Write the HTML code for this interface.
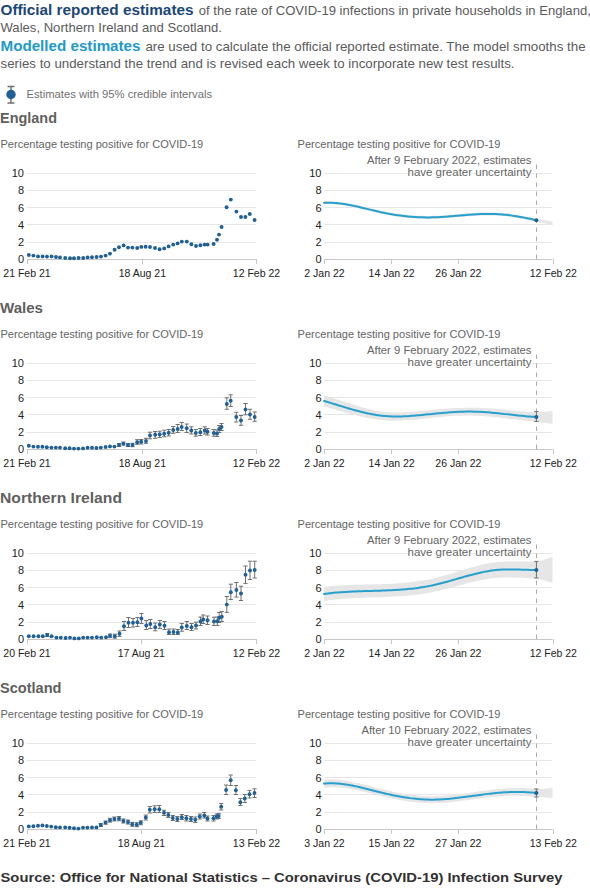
<!DOCTYPE html>
<html><head><meta charset="utf-8"><style>
html,body{margin:0;padding:0;background:#fff;}
body{width:590px;height:892px;overflow:hidden;}
svg{display:block;}
text{font-family:"Liberation Sans", sans-serif;}
</style></head><body>
<svg width="590" height="892" viewBox="0 0 590 892">
<text x="0.5" y="14.8" font-size="14" fill="#414042"><tspan font-weight="bold" fill="#1b4676" textLength="193" lengthAdjust="spacingAndGlyphs">Official reported estimates</tspan></text>
<text x="198.80" y="14.80" font-size="13.5" fill="#5a5a5b" font-weight="normal" text-anchor="start" textLength="392.0" lengthAdjust="spacingAndGlyphs">of the rate of COVID-19 infections in private households in England,</text>
<text x="0.50" y="31.50" font-size="13.5" fill="#5a5a5b" font-weight="normal" text-anchor="start" textLength="221.5" lengthAdjust="spacingAndGlyphs">Wales, Northern Ireland and Scotland.</text>
<text x="0.5" y="50.8" font-size="14" fill="#2199cb" font-weight="bold" textLength="140" lengthAdjust="spacingAndGlyphs">Modelled estimates</text>
<text x="145.40" y="50.80" font-size="13.5" fill="#5a5a5b" font-weight="normal" text-anchor="start" textLength="440.2" lengthAdjust="spacingAndGlyphs">are used to calculate the official reported estimate. The model smooths the</text>
<text x="0.50" y="68.00" font-size="13.5" fill="#5a5a5b" font-weight="normal" text-anchor="start" textLength="514.0" lengthAdjust="spacingAndGlyphs">series to understand the trend and is revised each week to incorporate new test results.</text>
<path d="M7.5,86.5h7M7.5,103h7M11,86.5V103" stroke="#707070" stroke-width="1.5" fill="none"/>
<circle cx="11" cy="94.5" r="4.7" fill="#206095"/>
<text x="26.50" y="97.80" font-size="11" fill="#707071" font-weight="normal" text-anchor="start" textLength="185.5" lengthAdjust="spacingAndGlyphs">Estimates with 95% credible intervals</text>
<text x="0.00" y="122.80" font-size="14" fill="#5f5f60" font-weight="bold" text-anchor="start" textLength="57.0" lengthAdjust="spacingAndGlyphs">England</text>
<text x="0.50" y="148.00" font-size="11" fill="#646465" font-weight="normal" text-anchor="start" textLength="202.7" lengthAdjust="spacingAndGlyphs">Percentage testing positive for COVID-19</text>
<text x="297.60" y="148.00" font-size="11" fill="#646465" font-weight="normal" text-anchor="start" textLength="202.8" lengthAdjust="spacingAndGlyphs">Percentage testing positive for COVID-19</text>
<rect x="27.00" y="173.00" width="229.50" height="1.00" fill="#e6e6e6"/>
<rect x="27.00" y="190.00" width="229.50" height="1.00" fill="#e6e6e6"/>
<rect x="27.00" y="207.00" width="229.50" height="1.00" fill="#e6e6e6"/>
<rect x="27.00" y="224.00" width="229.50" height="1.00" fill="#e6e6e6"/>
<rect x="27.00" y="242.00" width="229.50" height="1.00" fill="#e6e6e6"/>
<rect x="27.00" y="259.00" width="229.50" height="1.00" fill="#c6c6c6"/>
<text x="24.00" y="177.10" font-size="11" fill="#222222" font-weight="normal" text-anchor="end">10</text>
<text x="24.00" y="194.34" font-size="11" fill="#222222" font-weight="normal" text-anchor="end">8</text>
<text x="24.00" y="211.58" font-size="11" fill="#222222" font-weight="normal" text-anchor="end">6</text>
<text x="24.00" y="228.82" font-size="11" fill="#222222" font-weight="normal" text-anchor="end">4</text>
<text x="24.00" y="246.06" font-size="11" fill="#222222" font-weight="normal" text-anchor="end">2</text>
<text x="24.00" y="263.30" font-size="11" fill="#222222" font-weight="normal" text-anchor="end">0</text>
<rect x="27.00" y="259.00" width="1.00" height="5.00" fill="#c6c6c6"/>
<rect x="142.00" y="259.00" width="1.00" height="5.00" fill="#c6c6c6"/>
<rect x="256.00" y="259.00" width="1.00" height="5.00" fill="#c6c6c6"/>
<text x="27.00" y="277.00" font-size="11" fill="#222222" font-weight="normal" text-anchor="middle" textLength="47.3" lengthAdjust="spacingAndGlyphs">21 Feb 21</text>
<text x="142.40" y="277.00" font-size="11" fill="#222222" font-weight="normal" text-anchor="middle" textLength="47.3" lengthAdjust="spacingAndGlyphs">18 Aug 21</text>
<text x="256.50" y="277.00" font-size="11" fill="#222222" font-weight="normal" text-anchor="middle" textLength="47.3" lengthAdjust="spacingAndGlyphs">12 Feb 22</text>
<circle cx="28.80" cy="255.00" r="1.95" fill="#206095"/>
<circle cx="33.40" cy="255.60" r="1.95" fill="#206095"/>
<circle cx="38.00" cy="256.40" r="1.95" fill="#206095"/>
<circle cx="42.60" cy="256.40" r="1.95" fill="#206095"/>
<circle cx="47.00" cy="256.60" r="1.95" fill="#206095"/>
<circle cx="51.60" cy="256.40" r="1.95" fill="#206095"/>
<circle cx="56.00" cy="257.00" r="1.95" fill="#206095"/>
<circle cx="60.00" cy="257.40" r="1.95" fill="#206095"/>
<circle cx="65.20" cy="258.00" r="1.95" fill="#206095"/>
<circle cx="70.00" cy="258.20" r="1.95" fill="#206095"/>
<circle cx="74.00" cy="258.20" r="1.95" fill="#206095"/>
<circle cx="78.60" cy="258.00" r="1.95" fill="#206095"/>
<circle cx="83.20" cy="258.00" r="1.95" fill="#206095"/>
<circle cx="87.60" cy="257.40" r="1.95" fill="#206095"/>
<circle cx="92.00" cy="257.20" r="1.95" fill="#206095"/>
<circle cx="96.60" cy="257.00" r="1.95" fill="#206095"/>
<circle cx="101.00" cy="256.60" r="1.95" fill="#206095"/>
<circle cx="105.60" cy="255.60" r="1.95" fill="#206095"/>
<circle cx="110.00" cy="253.60" r="1.95" fill="#206095"/>
<circle cx="114.60" cy="249.80" r="1.95" fill="#206095"/>
<circle cx="119.00" cy="247.20" r="1.95" fill="#206095"/>
<circle cx="123.60" cy="245.40" r="1.95" fill="#206095"/>
<circle cx="128.00" cy="247.60" r="1.95" fill="#206095"/>
<circle cx="132.40" cy="247.60" r="1.95" fill="#206095"/>
<circle cx="137.20" cy="248.00" r="1.95" fill="#206095"/>
<circle cx="141.30" cy="246.90" r="1.95" fill="#206095"/>
<circle cx="145.60" cy="246.80" r="1.95" fill="#206095"/>
<circle cx="150.00" cy="247.00" r="1.95" fill="#206095"/>
<circle cx="155.00" cy="248.00" r="1.95" fill="#206095"/>
<circle cx="159.60" cy="249.20" r="1.95" fill="#206095"/>
<circle cx="164.20" cy="248.40" r="1.95" fill="#206095"/>
<circle cx="168.60" cy="246.40" r="1.95" fill="#206095"/>
<circle cx="173.20" cy="244.60" r="1.95" fill="#206095"/>
<circle cx="177.60" cy="243.40" r="1.95" fill="#206095"/>
<circle cx="181.80" cy="241.60" r="1.95" fill="#206095"/>
<circle cx="186.80" cy="241.60" r="1.95" fill="#206095"/>
<circle cx="191.40" cy="244.20" r="1.95" fill="#206095"/>
<circle cx="196.00" cy="246.00" r="1.95" fill="#206095"/>
<circle cx="200.40" cy="245.20" r="1.95" fill="#206095"/>
<circle cx="204.60" cy="244.60" r="1.95" fill="#206095"/>
<circle cx="207.60" cy="244.60" r="1.95" fill="#206095"/>
<circle cx="213.60" cy="244.00" r="1.95" fill="#206095"/>
<circle cx="217.00" cy="239.80" r="1.95" fill="#206095"/>
<circle cx="219.00" cy="234.60" r="1.95" fill="#206095"/>
<circle cx="221.60" cy="227.00" r="1.95" fill="#206095"/>
<circle cx="226.60" cy="207.20" r="1.95" fill="#206095"/>
<circle cx="230.80" cy="199.60" r="1.95" fill="#206095"/>
<circle cx="236.40" cy="211.60" r="1.95" fill="#206095"/>
<circle cx="241.00" cy="217.00" r="1.95" fill="#206095"/>
<circle cx="245.40" cy="217.00" r="1.95" fill="#206095"/>
<circle cx="249.80" cy="214.00" r="1.95" fill="#206095"/>
<circle cx="254.60" cy="220.00" r="1.95" fill="#206095"/>
<rect x="324.50" y="173.00" width="228.00" height="1.00" fill="#e6e6e6"/>
<rect x="324.50" y="190.00" width="228.00" height="1.00" fill="#e6e6e6"/>
<rect x="324.50" y="207.00" width="228.00" height="1.00" fill="#e6e6e6"/>
<rect x="324.50" y="224.00" width="228.00" height="1.00" fill="#e6e6e6"/>
<rect x="324.50" y="242.00" width="228.00" height="1.00" fill="#e6e6e6"/>
<rect x="324.50" y="259.00" width="228.00" height="1.00" fill="#c6c6c6"/>
<text x="321.50" y="177.10" font-size="11" fill="#222222" font-weight="normal" text-anchor="end">10</text>
<text x="321.50" y="194.34" font-size="11" fill="#222222" font-weight="normal" text-anchor="end">8</text>
<text x="321.50" y="211.58" font-size="11" fill="#222222" font-weight="normal" text-anchor="end">6</text>
<text x="321.50" y="228.82" font-size="11" fill="#222222" font-weight="normal" text-anchor="end">4</text>
<text x="321.50" y="246.06" font-size="11" fill="#222222" font-weight="normal" text-anchor="end">2</text>
<text x="321.50" y="263.30" font-size="11" fill="#222222" font-weight="normal" text-anchor="end">0</text>
<rect x="324.00" y="259.00" width="1.00" height="5.00" fill="#c6c6c6"/>
<rect x="391.00" y="259.00" width="1.00" height="5.00" fill="#c6c6c6"/>
<rect x="458.00" y="259.00" width="1.00" height="5.00" fill="#c6c6c6"/>
<rect x="553.00" y="259.00" width="1.00" height="5.00" fill="#c6c6c6"/>
<text x="324.50" y="277.00" font-size="11" fill="#222222" font-weight="normal" text-anchor="middle" textLength="40.3" lengthAdjust="spacingAndGlyphs">2 Jan 22</text>
<text x="391.60" y="277.00" font-size="11" fill="#222222" font-weight="normal" text-anchor="middle" textLength="46.1" lengthAdjust="spacingAndGlyphs">14 Jan 22</text>
<text x="458.40" y="277.00" font-size="11" fill="#222222" font-weight="normal" text-anchor="middle" textLength="46.1" lengthAdjust="spacingAndGlyphs">26 Jan 22</text>
<text x="553.30" y="277.00" font-size="11" fill="#222222" font-weight="normal" text-anchor="middle" textLength="47.3" lengthAdjust="spacingAndGlyphs">12 Feb 22</text>
<path d="M324.00,201.28 L326.00,201.20 L328.00,201.17 L330.00,201.20 L332.00,201.26 L334.00,201.38 L336.00,201.53 L338.00,201.72 L340.00,201.95 L342.00,202.21 L344.00,202.51 L346.00,202.83 L348.00,203.18 L350.00,203.55 L352.00,203.95 L354.00,204.37 L356.00,204.80 L358.00,205.25 L360.00,205.71 L362.00,206.18 L364.00,206.66 L366.00,207.14 L368.00,207.63 L370.00,208.11 L372.00,208.60 L374.00,209.08 L376.00,209.56 L378.00,210.02 L380.00,210.48 L382.00,210.92 L384.00,211.34 L386.00,211.75 L388.00,212.13 L390.00,212.50 L392.00,212.85 L394.00,213.18 L396.00,213.50 L398.00,213.79 L400.00,214.06 L402.00,214.32 L404.00,214.56 L406.00,214.77 L408.00,214.97 L410.00,215.15 L412.00,215.31 L414.00,215.45 L416.00,215.58 L418.00,215.68 L420.00,215.76 L422.00,215.83 L424.00,215.87 L426.00,215.90 L428.00,215.90 L430.00,215.89 L432.00,215.85 L434.00,215.80 L436.00,215.73 L438.00,215.64 L440.00,215.54 L442.00,215.42 L444.00,215.29 L446.00,215.15 L448.00,215.00 L450.00,214.85 L452.00,214.69 L454.00,214.52 L456.00,214.35 L458.00,214.17 L460.00,214.00 L462.00,213.83 L464.00,213.66 L466.00,213.50 L468.00,213.34 L470.00,213.19 L472.00,213.05 L474.00,212.91 L476.00,212.79 L478.00,212.69 L480.00,212.59 L482.00,212.52 L484.00,212.46 L486.00,212.42 L488.00,212.40 L490.00,212.40 L492.00,212.43 L494.00,212.48 L496.00,212.56 L498.00,212.67 L500.00,212.80 L502.00,212.96 L504.00,213.15 L506.00,213.36 L508.00,213.59 L510.00,213.84 L512.00,214.12 L514.00,214.41 L516.00,214.72 L518.00,215.06 L520.00,215.40 L522.00,215.77 L524.00,216.14 L526.00,216.54 L528.00,216.94 L530.00,217.35 L532.00,217.78 L534.00,218.22 L536.00,218.66 L536.40,218.75 L536.40,221.75 L536.00,221.66 L534.00,221.22 L532.00,220.78 L530.00,220.35 L528.00,219.94 L526.00,219.54 L524.00,219.14 L522.00,218.77 L520.00,218.40 L518.00,218.06 L516.00,217.72 L514.00,217.41 L512.00,217.12 L510.00,216.84 L508.00,216.59 L506.00,216.36 L504.00,216.15 L502.00,215.96 L500.00,215.80 L498.00,215.67 L496.00,215.56 L494.00,215.48 L492.00,215.43 L490.00,215.40 L488.00,215.40 L486.00,215.42 L484.00,215.46 L482.00,215.52 L480.00,215.59 L478.00,215.69 L476.00,215.79 L474.00,215.91 L472.00,216.05 L470.00,216.19 L468.00,216.34 L466.00,216.50 L464.00,216.66 L462.00,216.83 L460.00,217.00 L458.00,217.17 L456.00,217.35 L454.00,217.52 L452.00,217.69 L450.00,217.85 L448.00,218.00 L446.00,218.15 L444.00,218.29 L442.00,218.42 L440.00,218.54 L438.00,218.64 L436.00,218.73 L434.00,218.80 L432.00,218.85 L430.00,218.89 L428.00,218.90 L426.00,218.90 L424.00,218.87 L422.00,218.83 L420.00,218.76 L418.00,218.68 L416.00,218.58 L414.00,218.45 L412.00,218.31 L410.00,218.15 L408.00,217.97 L406.00,217.77 L404.00,217.56 L402.00,217.32 L400.00,217.06 L398.00,216.79 L396.00,216.50 L394.00,216.18 L392.00,215.85 L390.00,215.50 L388.00,215.13 L386.00,214.75 L384.00,214.34 L382.00,213.92 L380.00,213.48 L378.00,213.02 L376.00,212.56 L374.00,212.08 L372.00,211.60 L370.00,211.11 L368.00,210.63 L366.00,210.14 L364.00,209.66 L362.00,209.18 L360.00,208.71 L358.00,208.25 L356.00,207.80 L354.00,207.37 L352.00,206.95 L350.00,206.55 L348.00,206.18 L346.00,205.83 L344.00,205.51 L342.00,205.21 L340.00,204.95 L338.00,204.72 L336.00,204.53 L334.00,204.38 L332.00,204.26 L330.00,204.20 L328.00,204.17 L326.00,204.20 L324.00,204.28 Z" fill="#e6e6e6"/>
<path d="M536.40,219.00 L552.50,221.60 L552.50,225.00 L536.40,221.80 Z" fill="#e6e6e6"/>
<path d="M536.5,164.50V259.00" stroke="#aaaaaa" stroke-width="1" stroke-dasharray="4.5,4.5" fill="none"/>
<text x="531.50" y="164.00" font-size="11" fill="#646465" font-weight="normal" text-anchor="end" textLength="164.5" lengthAdjust="spacingAndGlyphs" stroke="#fff" stroke-width="2" paint-order="stroke">After 9 February 2022, estimates</text>
<text x="531.50" y="176.00" font-size="11" fill="#646465" font-weight="normal" text-anchor="end" textLength="124.0" lengthAdjust="spacingAndGlyphs" stroke="#fff" stroke-width="2" paint-order="stroke">have greater uncertainty</text>
<path d="M324.00,202.78 L326.00,202.70 L328.00,202.67 L330.00,202.70 L332.00,202.76 L334.00,202.88 L336.00,203.03 L338.00,203.22 L340.00,203.45 L342.00,203.71 L344.00,204.01 L346.00,204.33 L348.00,204.68 L350.00,205.05 L352.00,205.45 L354.00,205.87 L356.00,206.30 L358.00,206.75 L360.00,207.21 L362.00,207.68 L364.00,208.16 L366.00,208.64 L368.00,209.13 L370.00,209.61 L372.00,210.10 L374.00,210.58 L376.00,211.06 L378.00,211.52 L380.00,211.98 L382.00,212.42 L384.00,212.84 L386.00,213.25 L388.00,213.63 L390.00,214.00 L392.00,214.35 L394.00,214.68 L396.00,215.00 L398.00,215.29 L400.00,215.56 L402.00,215.82 L404.00,216.06 L406.00,216.27 L408.00,216.47 L410.00,216.65 L412.00,216.81 L414.00,216.95 L416.00,217.08 L418.00,217.18 L420.00,217.26 L422.00,217.33 L424.00,217.37 L426.00,217.40 L428.00,217.40 L430.00,217.39 L432.00,217.35 L434.00,217.30 L436.00,217.23 L438.00,217.14 L440.00,217.04 L442.00,216.92 L444.00,216.79 L446.00,216.65 L448.00,216.50 L450.00,216.35 L452.00,216.19 L454.00,216.02 L456.00,215.85 L458.00,215.67 L460.00,215.50 L462.00,215.33 L464.00,215.16 L466.00,215.00 L468.00,214.84 L470.00,214.69 L472.00,214.55 L474.00,214.41 L476.00,214.29 L478.00,214.19 L480.00,214.09 L482.00,214.02 L484.00,213.96 L486.00,213.92 L488.00,213.90 L490.00,213.90 L492.00,213.93 L494.00,213.98 L496.00,214.06 L498.00,214.17 L500.00,214.30 L502.00,214.46 L504.00,214.65 L506.00,214.86 L508.00,215.09 L510.00,215.34 L512.00,215.62 L514.00,215.91 L516.00,216.22 L518.00,216.56 L520.00,216.90 L522.00,217.27 L524.00,217.64 L526.00,218.04 L528.00,218.44 L530.00,218.85 L532.00,219.28 L534.00,219.72 L536.00,220.16 L536.40,220.25" stroke="#27a0cc" stroke-width="2" fill="none" stroke-linecap="round"/>
<circle cx="536.40" cy="220.20" r="2.0" fill="#206095"/>
<text x="0.00" y="312.80" font-size="14" fill="#5f5f60" font-weight="bold" text-anchor="start" textLength="43.0" lengthAdjust="spacingAndGlyphs">Wales</text>
<text x="0.50" y="338.00" font-size="11" fill="#646465" font-weight="normal" text-anchor="start" textLength="202.7" lengthAdjust="spacingAndGlyphs">Percentage testing positive for COVID-19</text>
<text x="297.60" y="338.00" font-size="11" fill="#646465" font-weight="normal" text-anchor="start" textLength="202.8" lengthAdjust="spacingAndGlyphs">Percentage testing positive for COVID-19</text>
<rect x="27.00" y="363.00" width="229.50" height="1.00" fill="#e6e6e6"/>
<rect x="27.00" y="380.00" width="229.50" height="1.00" fill="#e6e6e6"/>
<rect x="27.00" y="397.00" width="229.50" height="1.00" fill="#e6e6e6"/>
<rect x="27.00" y="414.00" width="229.50" height="1.00" fill="#e6e6e6"/>
<rect x="27.00" y="432.00" width="229.50" height="1.00" fill="#e6e6e6"/>
<rect x="27.00" y="449.00" width="229.50" height="1.00" fill="#c6c6c6"/>
<text x="24.00" y="367.10" font-size="11" fill="#222222" font-weight="normal" text-anchor="end">10</text>
<text x="24.00" y="384.34" font-size="11" fill="#222222" font-weight="normal" text-anchor="end">8</text>
<text x="24.00" y="401.58" font-size="11" fill="#222222" font-weight="normal" text-anchor="end">6</text>
<text x="24.00" y="418.82" font-size="11" fill="#222222" font-weight="normal" text-anchor="end">4</text>
<text x="24.00" y="436.06" font-size="11" fill="#222222" font-weight="normal" text-anchor="end">2</text>
<text x="24.00" y="453.30" font-size="11" fill="#222222" font-weight="normal" text-anchor="end">0</text>
<rect x="27.00" y="449.00" width="1.00" height="5.00" fill="#c6c6c6"/>
<rect x="142.00" y="449.00" width="1.00" height="5.00" fill="#c6c6c6"/>
<rect x="256.00" y="449.00" width="1.00" height="5.00" fill="#c6c6c6"/>
<text x="27.00" y="467.00" font-size="11" fill="#222222" font-weight="normal" text-anchor="middle" textLength="47.3" lengthAdjust="spacingAndGlyphs">21 Feb 21</text>
<text x="142.40" y="467.00" font-size="11" fill="#222222" font-weight="normal" text-anchor="middle" textLength="47.3" lengthAdjust="spacingAndGlyphs">18 Aug 21</text>
<text x="256.50" y="467.00" font-size="11" fill="#222222" font-weight="normal" text-anchor="middle" textLength="47.3" lengthAdjust="spacingAndGlyphs">12 Feb 22</text>
<path d="M119.00,443.50V446.50M116.90,443.50h4.2M116.90,446.50h4.2" stroke="#707070" stroke-width="1" fill="none"/>
<path d="M123.40,442.00V445.20M121.30,442.00h4.2M121.30,445.20h4.2" stroke="#707070" stroke-width="1" fill="none"/>
<path d="M128.00,443.50V446.50M125.90,443.50h4.2M125.90,446.50h4.2" stroke="#707070" stroke-width="1" fill="none"/>
<path d="M132.50,443.30V446.70M130.40,443.30h4.2M130.40,446.70h4.2" stroke="#707070" stroke-width="1" fill="none"/>
<path d="M137.20,439.70V444.30M135.10,439.70h4.2M135.10,444.30h4.2" stroke="#707070" stroke-width="1" fill="none"/>
<path d="M141.20,439.50V444.00M139.10,439.50h4.2M139.10,444.00h4.2" stroke="#707070" stroke-width="1" fill="none"/>
<path d="M146.00,438.30V443.30M143.90,438.30h4.2M143.90,443.30h4.2" stroke="#707070" stroke-width="1" fill="none"/>
<path d="M150.00,432.20V438.80M147.90,432.20h4.2M147.90,438.80h4.2" stroke="#707070" stroke-width="1" fill="none"/>
<path d="M155.20,431.50V438.30M153.10,431.50h4.2M153.10,438.30h4.2" stroke="#707070" stroke-width="1" fill="none"/>
<path d="M159.70,431.20V437.50M157.60,431.20h4.2M157.60,437.50h4.2" stroke="#707070" stroke-width="1" fill="none"/>
<path d="M164.20,430.20V436.80M162.10,430.20h4.2M162.10,436.80h4.2" stroke="#707070" stroke-width="1" fill="none"/>
<path d="M168.70,429.50V436.00M166.60,429.50h4.2M166.60,436.00h4.2" stroke="#707070" stroke-width="1" fill="none"/>
<path d="M173.20,426.50V433.30M171.10,426.50h4.2M171.10,433.30h4.2" stroke="#707070" stroke-width="1" fill="none"/>
<path d="M177.70,424.50V432.50M175.60,424.50h4.2M175.60,432.50h4.2" stroke="#707070" stroke-width="1" fill="none"/>
<path d="M181.70,422.50V430.50M179.60,422.50h4.2M179.60,430.50h4.2" stroke="#707070" stroke-width="1" fill="none"/>
<path d="M186.70,424.00V432.50M184.60,424.00h4.2M184.60,432.50h4.2" stroke="#707070" stroke-width="1" fill="none"/>
<path d="M191.30,426.80V434.00M189.20,426.80h4.2M189.20,434.00h4.2" stroke="#707070" stroke-width="1" fill="none"/>
<path d="M195.80,429.50V436.20M193.70,429.50h4.2M193.70,436.20h4.2" stroke="#707070" stroke-width="1" fill="none"/>
<path d="M200.30,428.50V435.50M198.20,428.50h4.2M198.20,435.50h4.2" stroke="#707070" stroke-width="1" fill="none"/>
<path d="M204.80,426.80V434.00M202.70,426.80h4.2M202.70,434.00h4.2" stroke="#707070" stroke-width="1" fill="none"/>
<path d="M207.50,428.50V435.00M205.40,428.50h4.2M205.40,435.00h4.2" stroke="#707070" stroke-width="1" fill="none"/>
<path d="M213.80,429.50V436.20M211.70,429.50h4.2M211.70,436.20h4.2" stroke="#707070" stroke-width="1" fill="none"/>
<path d="M217.00,430.00V436.50M214.90,430.00h4.2M214.90,436.50h4.2" stroke="#707070" stroke-width="1" fill="none"/>
<path d="M219.20,425.50V432.50M217.10,425.50h4.2M217.10,432.50h4.2" stroke="#707070" stroke-width="1" fill="none"/>
<path d="M221.50,423.50V430.50M219.40,423.50h4.2M219.40,430.50h4.2" stroke="#707070" stroke-width="1" fill="none"/>
<path d="M226.80,397.80V409.30M224.70,397.80h4.2M224.70,409.30h4.2" stroke="#707070" stroke-width="1" fill="none"/>
<path d="M230.70,394.80V406.50M228.60,394.80h4.2M228.60,406.50h4.2" stroke="#707070" stroke-width="1" fill="none"/>
<path d="M236.30,412.30V422.00M234.20,412.30h4.2M234.20,422.00h4.2" stroke="#707070" stroke-width="1" fill="none"/>
<path d="M241.00,415.50V425.30M238.90,415.50h4.2M238.90,425.30h4.2" stroke="#707070" stroke-width="1" fill="none"/>
<path d="M245.50,403.50V414.80M243.40,403.50h4.2M243.40,414.80h4.2" stroke="#707070" stroke-width="1" fill="none"/>
<path d="M250.00,409.30V419.30M247.90,409.30h4.2M247.90,419.30h4.2" stroke="#707070" stroke-width="1" fill="none"/>
<path d="M254.70,412.00V421.30M252.60,412.00h4.2M252.60,421.30h4.2" stroke="#707070" stroke-width="1" fill="none"/>
<circle cx="28.80" cy="445.80" r="1.95" fill="#206095"/>
<circle cx="33.40" cy="446.60" r="1.95" fill="#206095"/>
<circle cx="38.00" cy="446.80" r="1.95" fill="#206095"/>
<circle cx="42.40" cy="446.80" r="1.95" fill="#206095"/>
<circle cx="46.80" cy="447.20" r="1.95" fill="#206095"/>
<circle cx="51.40" cy="447.60" r="1.95" fill="#206095"/>
<circle cx="55.80" cy="447.60" r="1.95" fill="#206095"/>
<circle cx="60.00" cy="447.60" r="1.95" fill="#206095"/>
<circle cx="65.20" cy="448.20" r="1.95" fill="#206095"/>
<circle cx="69.60" cy="448.20" r="1.95" fill="#206095"/>
<circle cx="74.00" cy="448.60" r="1.95" fill="#206095"/>
<circle cx="78.40" cy="448.60" r="1.95" fill="#206095"/>
<circle cx="83.00" cy="448.40" r="1.95" fill="#206095"/>
<circle cx="87.60" cy="447.80" r="1.95" fill="#206095"/>
<circle cx="92.00" cy="447.80" r="1.95" fill="#206095"/>
<circle cx="96.40" cy="448.00" r="1.95" fill="#206095"/>
<circle cx="100.80" cy="447.60" r="1.95" fill="#206095"/>
<circle cx="105.60" cy="447.00" r="1.95" fill="#206095"/>
<circle cx="110.00" cy="446.40" r="1.95" fill="#206095"/>
<circle cx="114.40" cy="446.60" r="1.95" fill="#206095"/>
<circle cx="119.00" cy="445.00" r="1.95" fill="#206095"/>
<circle cx="123.40" cy="443.60" r="1.95" fill="#206095"/>
<circle cx="128.00" cy="445.00" r="1.95" fill="#206095"/>
<circle cx="132.50" cy="445.00" r="1.95" fill="#206095"/>
<circle cx="137.20" cy="442.20" r="1.95" fill="#206095"/>
<circle cx="141.20" cy="441.80" r="1.95" fill="#206095"/>
<circle cx="146.00" cy="441.00" r="1.95" fill="#206095"/>
<circle cx="150.00" cy="435.50" r="1.95" fill="#206095"/>
<circle cx="155.20" cy="434.80" r="1.95" fill="#206095"/>
<circle cx="159.70" cy="434.50" r="1.95" fill="#206095"/>
<circle cx="164.20" cy="433.80" r="1.95" fill="#206095"/>
<circle cx="168.70" cy="432.80" r="1.95" fill="#206095"/>
<circle cx="173.20" cy="430.00" r="1.95" fill="#206095"/>
<circle cx="177.70" cy="429.00" r="1.95" fill="#206095"/>
<circle cx="181.70" cy="427.00" r="1.95" fill="#206095"/>
<circle cx="186.70" cy="428.30" r="1.95" fill="#206095"/>
<circle cx="191.30" cy="430.50" r="1.95" fill="#206095"/>
<circle cx="195.80" cy="433.00" r="1.95" fill="#206095"/>
<circle cx="200.30" cy="432.20" r="1.95" fill="#206095"/>
<circle cx="204.80" cy="430.50" r="1.95" fill="#206095"/>
<circle cx="207.50" cy="431.80" r="1.95" fill="#206095"/>
<circle cx="213.80" cy="433.00" r="1.95" fill="#206095"/>
<circle cx="217.00" cy="433.50" r="1.95" fill="#206095"/>
<circle cx="219.20" cy="429.00" r="1.95" fill="#206095"/>
<circle cx="221.50" cy="427.00" r="1.95" fill="#206095"/>
<circle cx="226.80" cy="404.00" r="1.95" fill="#206095"/>
<circle cx="230.70" cy="400.80" r="1.95" fill="#206095"/>
<circle cx="236.30" cy="417.00" r="1.95" fill="#206095"/>
<circle cx="241.00" cy="420.50" r="1.95" fill="#206095"/>
<circle cx="245.50" cy="409.50" r="1.95" fill="#206095"/>
<circle cx="250.00" cy="414.50" r="1.95" fill="#206095"/>
<circle cx="254.70" cy="417.00" r="1.95" fill="#206095"/>
<rect x="324.50" y="363.00" width="228.00" height="1.00" fill="#e6e6e6"/>
<rect x="324.50" y="380.00" width="228.00" height="1.00" fill="#e6e6e6"/>
<rect x="324.50" y="397.00" width="228.00" height="1.00" fill="#e6e6e6"/>
<rect x="324.50" y="414.00" width="228.00" height="1.00" fill="#e6e6e6"/>
<rect x="324.50" y="432.00" width="228.00" height="1.00" fill="#e6e6e6"/>
<rect x="324.50" y="449.00" width="228.00" height="1.00" fill="#c6c6c6"/>
<text x="321.50" y="367.10" font-size="11" fill="#222222" font-weight="normal" text-anchor="end">10</text>
<text x="321.50" y="384.34" font-size="11" fill="#222222" font-weight="normal" text-anchor="end">8</text>
<text x="321.50" y="401.58" font-size="11" fill="#222222" font-weight="normal" text-anchor="end">6</text>
<text x="321.50" y="418.82" font-size="11" fill="#222222" font-weight="normal" text-anchor="end">4</text>
<text x="321.50" y="436.06" font-size="11" fill="#222222" font-weight="normal" text-anchor="end">2</text>
<text x="321.50" y="453.30" font-size="11" fill="#222222" font-weight="normal" text-anchor="end">0</text>
<rect x="324.00" y="449.00" width="1.00" height="5.00" fill="#c6c6c6"/>
<rect x="391.00" y="449.00" width="1.00" height="5.00" fill="#c6c6c6"/>
<rect x="458.00" y="449.00" width="1.00" height="5.00" fill="#c6c6c6"/>
<rect x="553.00" y="449.00" width="1.00" height="5.00" fill="#c6c6c6"/>
<text x="324.50" y="467.00" font-size="11" fill="#222222" font-weight="normal" text-anchor="middle" textLength="40.3" lengthAdjust="spacingAndGlyphs">2 Jan 22</text>
<text x="391.60" y="467.00" font-size="11" fill="#222222" font-weight="normal" text-anchor="middle" textLength="46.1" lengthAdjust="spacingAndGlyphs">14 Jan 22</text>
<text x="458.40" y="467.00" font-size="11" fill="#222222" font-weight="normal" text-anchor="middle" textLength="46.1" lengthAdjust="spacingAndGlyphs">26 Jan 22</text>
<text x="553.30" y="467.00" font-size="11" fill="#222222" font-weight="normal" text-anchor="middle" textLength="47.3" lengthAdjust="spacingAndGlyphs">12 Feb 22</text>
<path d="M324.00,395.48 L326.00,396.02 L328.00,396.59 L330.00,397.17 L332.00,397.77 L334.00,398.39 L336.00,399.01 L338.00,399.65 L340.00,400.30 L342.00,400.95 L344.00,401.60 L346.00,402.25 L348.00,402.91 L350.00,403.56 L352.00,404.20 L354.00,404.84 L356.00,405.46 L358.00,406.07 L360.00,406.67 L362.00,407.26 L364.00,407.82 L366.00,408.36 L368.00,408.88 L370.00,409.37 L372.00,409.83 L374.00,410.27 L376.00,410.67 L378.00,411.04 L380.00,411.37 L382.00,411.66 L384.00,411.91 L386.00,412.11 L388.00,412.28 L390.00,412.41 L392.00,412.50 L394.00,412.55 L396.00,412.57 L398.00,412.56 L400.00,412.52 L402.00,412.46 L404.00,412.37 L406.00,412.26 L408.00,412.13 L410.00,411.98 L412.00,411.82 L414.00,411.64 L416.00,411.45 L418.00,411.26 L420.00,411.05 L422.00,410.84 L424.00,410.63 L426.00,410.42 L428.00,410.21 L430.00,410.01 L432.00,409.81 L434.00,409.61 L436.00,409.43 L438.00,409.26 L440.00,409.09 L442.00,408.93 L444.00,408.79 L446.00,408.65 L448.00,408.52 L450.00,408.40 L452.00,408.29 L454.00,408.19 L456.00,408.10 L458.00,408.02 L460.00,407.96 L462.00,407.90 L464.00,407.85 L466.00,407.82 L468.00,407.80 L470.00,407.79 L472.00,407.79 L474.00,407.80 L476.00,407.82 L478.00,407.86 L480.00,407.91 L482.00,407.97 L484.00,408.05 L486.00,408.14 L488.00,408.24 L490.00,408.36 L492.00,408.49 L494.00,408.63 L496.00,408.79 L498.00,408.96 L500.00,409.14 L502.00,409.33 L504.00,409.54 L506.00,409.75 L508.00,409.96 L510.00,410.18 L512.00,410.39 L514.00,410.61 L516.00,410.82 L518.00,411.03 L520.00,411.23 L522.00,411.43 L524.00,411.61 L526.00,411.78 L528.00,411.93 L530.00,412.07 L532.00,412.19 L534.00,412.29 L536.00,412.37 L536.40,412.38 L536.40,421.57 L536.00,421.54 L534.00,421.40 L532.00,421.24 L530.00,421.07 L528.00,420.89 L526.00,420.69 L524.00,420.49 L522.00,420.28 L520.00,420.06 L518.00,419.83 L516.00,419.60 L514.00,419.36 L512.00,419.13 L510.00,418.89 L508.00,418.65 L506.00,418.41 L504.00,418.17 L502.00,417.94 L500.00,417.71 L498.00,417.48 L496.00,417.27 L494.00,417.06 L492.00,416.86 L490.00,416.67 L488.00,416.49 L486.00,416.32 L484.00,416.17 L482.00,416.03 L480.00,415.91 L478.00,415.80 L476.00,415.71 L474.00,415.64 L472.00,415.59 L470.00,415.56 L468.00,415.55 L466.00,415.56 L464.00,415.58 L462.00,415.63 L460.00,415.69 L458.00,415.76 L456.00,415.85 L454.00,415.96 L452.00,416.08 L450.00,416.21 L448.00,416.35 L446.00,416.50 L444.00,416.67 L442.00,416.84 L440.00,417.02 L438.00,417.21 L436.00,417.40 L434.00,417.60 L432.00,417.80 L430.00,418.01 L428.00,418.23 L426.00,418.44 L424.00,418.65 L422.00,418.86 L420.00,419.06 L418.00,419.26 L416.00,419.46 L414.00,419.64 L412.00,419.82 L410.00,419.98 L408.00,420.13 L406.00,420.26 L404.00,420.37 L402.00,420.47 L400.00,420.55 L398.00,420.61 L396.00,420.64 L394.00,420.65 L392.00,420.63 L390.00,420.58 L388.00,420.51 L386.00,420.40 L384.00,420.26 L382.00,420.09 L380.00,419.88 L378.00,419.64 L376.00,419.38 L374.00,419.08 L372.00,418.75 L370.00,418.40 L368.00,418.03 L366.00,417.63 L364.00,417.21 L362.00,416.77 L360.00,416.31 L358.00,415.83 L356.00,415.34 L354.00,414.84 L352.00,414.32 L350.00,413.78 L348.00,413.24 L346.00,412.69 L344.00,412.13 L342.00,411.57 L340.00,411.00 L338.00,410.43 L336.00,409.86 L334.00,409.28 L332.00,408.71 L330.00,408.14 L328.00,407.57 L326.00,407.01 L324.00,406.46 Z" fill="#e6e6e6"/>
<path d="M536.40,412.50 L552.50,411.00 L552.50,424.00 L536.40,421.50 Z" fill="#e6e6e6"/>
<path d="M536.5,354.50V449.00" stroke="#aaaaaa" stroke-width="1" stroke-dasharray="4.5,4.5" fill="none"/>
<text x="531.50" y="354.00" font-size="11" fill="#646465" font-weight="normal" text-anchor="end" textLength="164.5" lengthAdjust="spacingAndGlyphs" stroke="#fff" stroke-width="2" paint-order="stroke">After 9 February 2022, estimates</text>
<text x="531.50" y="366.00" font-size="11" fill="#646465" font-weight="normal" text-anchor="end" textLength="124.0" lengthAdjust="spacingAndGlyphs" stroke="#fff" stroke-width="2" paint-order="stroke">have greater uncertainty</text>
<path d="M324.00,400.95 L326.00,401.54 L328.00,402.13 L330.00,402.74 L332.00,403.34 L334.00,403.95 L336.00,404.56 L338.00,405.18 L340.00,405.79 L342.00,406.40 L344.00,407.00 L346.00,407.60 L348.00,408.20 L350.00,408.78 L352.00,409.36 L354.00,409.92 L356.00,410.47 L358.00,411.00 L360.00,411.52 L362.00,412.03 L364.00,412.51 L366.00,412.97 L368.00,413.41 L370.00,413.83 L372.00,414.22 L374.00,414.58 L376.00,414.92 L378.00,415.23 L380.00,415.50 L382.00,415.74 L384.00,415.95 L386.00,416.12 L388.00,416.26 L390.00,416.37 L392.00,416.45 L394.00,416.49 L396.00,416.51 L398.00,416.50 L400.00,416.47 L402.00,416.42 L404.00,416.34 L406.00,416.24 L408.00,416.13 L410.00,416.00 L412.00,415.85 L414.00,415.70 L416.00,415.52 L418.00,415.34 L420.00,415.16 L422.00,414.96 L424.00,414.76 L426.00,414.56 L428.00,414.35 L430.00,414.14 L432.00,413.94 L434.00,413.74 L436.00,413.54 L438.00,413.34 L440.00,413.16 L442.00,412.97 L444.00,412.80 L446.00,412.63 L448.00,412.47 L450.00,412.32 L452.00,412.19 L454.00,412.06 L456.00,411.95 L458.00,411.85 L460.00,411.76 L462.00,411.69 L464.00,411.63 L466.00,411.60 L468.00,411.58 L470.00,411.57 L472.00,411.59 L474.00,411.63 L476.00,411.68 L478.00,411.76 L480.00,411.85 L482.00,411.96 L484.00,412.08 L486.00,412.21 L488.00,412.36 L490.00,412.53 L492.00,412.70 L494.00,412.88 L496.00,413.07 L498.00,413.27 L500.00,413.48 L502.00,413.69 L504.00,413.91 L506.00,414.13 L508.00,414.35 L510.00,414.57 L512.00,414.79 L514.00,415.01 L516.00,415.23 L518.00,415.44 L520.00,415.65 L522.00,415.85 L524.00,416.04 L526.00,416.22 L528.00,416.39 L530.00,416.55 L532.00,416.70 L534.00,416.83 L536.00,416.95 L536.40,416.97" stroke="#27a0cc" stroke-width="2" fill="none" stroke-linecap="round"/>
<path d="M536.40,411.60V421.40M534.20,411.60h4.4M534.20,421.40h4.4" stroke="#707070" stroke-width="1" fill="none"/>
<circle cx="536.40" cy="417.00" r="2.0" fill="#206095"/>
<text x="0.00" y="502.80" font-size="14" fill="#5f5f60" font-weight="bold" text-anchor="start" textLength="122.0" lengthAdjust="spacingAndGlyphs">Northern Ireland</text>
<text x="0.50" y="528.00" font-size="11" fill="#646465" font-weight="normal" text-anchor="start" textLength="202.7" lengthAdjust="spacingAndGlyphs">Percentage testing positive for COVID-19</text>
<text x="297.60" y="528.00" font-size="11" fill="#646465" font-weight="normal" text-anchor="start" textLength="202.8" lengthAdjust="spacingAndGlyphs">Percentage testing positive for COVID-19</text>
<rect x="27.00" y="553.00" width="229.50" height="1.00" fill="#e6e6e6"/>
<rect x="27.00" y="570.00" width="229.50" height="1.00" fill="#e6e6e6"/>
<rect x="27.00" y="587.00" width="229.50" height="1.00" fill="#e6e6e6"/>
<rect x="27.00" y="604.00" width="229.50" height="1.00" fill="#e6e6e6"/>
<rect x="27.00" y="622.00" width="229.50" height="1.00" fill="#e6e6e6"/>
<rect x="27.00" y="639.00" width="229.50" height="1.00" fill="#c6c6c6"/>
<text x="24.00" y="557.10" font-size="11" fill="#222222" font-weight="normal" text-anchor="end">10</text>
<text x="24.00" y="574.34" font-size="11" fill="#222222" font-weight="normal" text-anchor="end">8</text>
<text x="24.00" y="591.58" font-size="11" fill="#222222" font-weight="normal" text-anchor="end">6</text>
<text x="24.00" y="608.82" font-size="11" fill="#222222" font-weight="normal" text-anchor="end">4</text>
<text x="24.00" y="626.06" font-size="11" fill="#222222" font-weight="normal" text-anchor="end">2</text>
<text x="24.00" y="643.30" font-size="11" fill="#222222" font-weight="normal" text-anchor="end">0</text>
<rect x="27.00" y="639.00" width="1.00" height="5.00" fill="#c6c6c6"/>
<rect x="141.00" y="639.00" width="1.00" height="5.00" fill="#c6c6c6"/>
<rect x="256.00" y="639.00" width="1.00" height="5.00" fill="#c6c6c6"/>
<text x="27.00" y="657.00" font-size="11" fill="#222222" font-weight="normal" text-anchor="middle" textLength="47.3" lengthAdjust="spacingAndGlyphs">20 Feb 21</text>
<text x="141.30" y="657.00" font-size="11" fill="#222222" font-weight="normal" text-anchor="middle" textLength="47.3" lengthAdjust="spacingAndGlyphs">17 Aug 21</text>
<text x="256.50" y="657.00" font-size="11" fill="#222222" font-weight="normal" text-anchor="middle" textLength="47.3" lengthAdjust="spacingAndGlyphs">12 Feb 22</text>
<path d="M47.20,633.50V636.50M45.10,633.50h4.2M45.10,636.50h4.2" stroke="#707070" stroke-width="1" fill="none"/>
<path d="M110.00,634.00V637.60M107.90,634.00h4.2M107.90,637.60h4.2" stroke="#707070" stroke-width="1" fill="none"/>
<path d="M114.80,634.20V638.20M112.70,634.20h4.2M112.70,638.20h4.2" stroke="#707070" stroke-width="1" fill="none"/>
<path d="M119.50,631.00V636.40M117.40,631.00h4.2M117.40,636.40h4.2" stroke="#707070" stroke-width="1" fill="none"/>
<path d="M124.00,621.50V630.50M121.90,621.50h4.2M121.90,630.50h4.2" stroke="#707070" stroke-width="1" fill="none"/>
<path d="M128.50,617.50V627.50M126.40,617.50h4.2M126.40,627.50h4.2" stroke="#707070" stroke-width="1" fill="none"/>
<path d="M133.00,618.50V627.00M130.90,618.50h4.2M130.90,627.00h4.2" stroke="#707070" stroke-width="1" fill="none"/>
<path d="M137.40,617.50V626.50M135.30,617.50h4.2M135.30,626.50h4.2" stroke="#707070" stroke-width="1" fill="none"/>
<path d="M141.40,613.50V623.50M139.30,613.50h4.2M139.30,623.50h4.2" stroke="#707070" stroke-width="1" fill="none"/>
<path d="M146.30,620.50V629.50M144.20,620.50h4.2M144.20,629.50h4.2" stroke="#707070" stroke-width="1" fill="none"/>
<path d="M150.30,619.50V628.50M148.20,619.50h4.2M148.20,628.50h4.2" stroke="#707070" stroke-width="1" fill="none"/>
<path d="M155.20,623.00V630.80M153.10,623.00h4.2M153.10,630.80h4.2" stroke="#707070" stroke-width="1" fill="none"/>
<path d="M159.80,620.50V628.50M157.70,620.50h4.2M157.70,628.50h4.2" stroke="#707070" stroke-width="1" fill="none"/>
<path d="M164.50,621.50V629.50M162.40,621.50h4.2M162.40,629.50h4.2" stroke="#707070" stroke-width="1" fill="none"/>
<path d="M169.00,629.00V634.50M166.90,629.00h4.2M166.90,634.50h4.2" stroke="#707070" stroke-width="1" fill="none"/>
<path d="M173.50,629.00V634.50M171.40,629.00h4.2M171.40,634.50h4.2" stroke="#707070" stroke-width="1" fill="none"/>
<path d="M177.80,629.50V634.50M175.70,629.50h4.2M175.70,634.50h4.2" stroke="#707070" stroke-width="1" fill="none"/>
<path d="M181.80,623.50V631.20M179.70,623.50h4.2M179.70,631.20h4.2" stroke="#707070" stroke-width="1" fill="none"/>
<path d="M186.80,621.50V629.50M184.70,621.50h4.2M184.70,629.50h4.2" stroke="#707070" stroke-width="1" fill="none"/>
<path d="M191.50,623.50V630.50M189.40,623.50h4.2M189.40,630.50h4.2" stroke="#707070" stroke-width="1" fill="none"/>
<path d="M196.00,622.20V629.00M193.90,622.20h4.2M193.90,629.00h4.2" stroke="#707070" stroke-width="1" fill="none"/>
<path d="M200.50,617.00V625.50M198.40,617.00h4.2M198.40,625.50h4.2" stroke="#707070" stroke-width="1" fill="none"/>
<path d="M203.20,615.00V623.50M201.10,615.00h4.2M201.10,623.50h4.2" stroke="#707070" stroke-width="1" fill="none"/>
<path d="M207.50,616.00V624.50M205.40,616.00h4.2M205.40,624.50h4.2" stroke="#707070" stroke-width="1" fill="none"/>
<path d="M214.00,617.20V625.50M211.90,617.20h4.2M211.90,625.50h4.2" stroke="#707070" stroke-width="1" fill="none"/>
<path d="M217.30,617.00V625.50M215.20,617.00h4.2M215.20,625.50h4.2" stroke="#707070" stroke-width="1" fill="none"/>
<path d="M219.20,612.50V622.50M217.10,612.50h4.2M217.10,622.50h4.2" stroke="#707070" stroke-width="1" fill="none"/>
<path d="M221.80,611.50V621.50M219.70,611.50h4.2M219.70,621.50h4.2" stroke="#707070" stroke-width="1" fill="none"/>
<path d="M226.80,596.50V612.30M224.70,596.50h4.2M224.70,612.30h4.2" stroke="#707070" stroke-width="1" fill="none"/>
<path d="M230.80,584.20V599.50M228.70,584.20h4.2M228.70,599.50h4.2" stroke="#707070" stroke-width="1" fill="none"/>
<path d="M236.40,582.50V597.00M234.30,582.50h4.2M234.30,597.00h4.2" stroke="#707070" stroke-width="1" fill="none"/>
<path d="M241.00,586.20V600.50M238.90,586.20h4.2M238.90,600.50h4.2" stroke="#707070" stroke-width="1" fill="none"/>
<path d="M245.50,566.00V583.40M243.40,566.00h4.2M243.40,583.40h4.2" stroke="#707070" stroke-width="1" fill="none"/>
<path d="M250.00,561.20V579.50M247.90,561.20h4.2M247.90,579.50h4.2" stroke="#707070" stroke-width="1" fill="none"/>
<path d="M254.70,561.20V578.00M252.60,561.20h4.2M252.60,578.00h4.2" stroke="#707070" stroke-width="1" fill="none"/>
<circle cx="28.80" cy="636.20" r="1.95" fill="#206095"/>
<circle cx="33.60" cy="636.20" r="1.95" fill="#206095"/>
<circle cx="38.40" cy="636.20" r="1.95" fill="#206095"/>
<circle cx="42.80" cy="636.20" r="1.95" fill="#206095"/>
<circle cx="47.20" cy="635.00" r="1.95" fill="#206095"/>
<circle cx="51.60" cy="636.20" r="1.95" fill="#206095"/>
<circle cx="56.40" cy="637.60" r="1.95" fill="#206095"/>
<circle cx="60.80" cy="637.60" r="1.95" fill="#206095"/>
<circle cx="65.60" cy="638.00" r="1.95" fill="#206095"/>
<circle cx="70.00" cy="637.60" r="1.95" fill="#206095"/>
<circle cx="74.40" cy="638.40" r="1.95" fill="#206095"/>
<circle cx="78.80" cy="638.40" r="1.95" fill="#206095"/>
<circle cx="83.20" cy="637.60" r="1.95" fill="#206095"/>
<circle cx="87.60" cy="637.60" r="1.95" fill="#206095"/>
<circle cx="92.00" cy="637.60" r="1.95" fill="#206095"/>
<circle cx="96.80" cy="637.20" r="1.95" fill="#206095"/>
<circle cx="101.20" cy="637.60" r="1.95" fill="#206095"/>
<circle cx="106.00" cy="637.20" r="1.95" fill="#206095"/>
<circle cx="110.00" cy="635.80" r="1.95" fill="#206095"/>
<circle cx="114.80" cy="636.20" r="1.95" fill="#206095"/>
<circle cx="119.50" cy="633.70" r="1.95" fill="#206095"/>
<circle cx="124.00" cy="626.30" r="1.95" fill="#206095"/>
<circle cx="128.50" cy="622.70" r="1.95" fill="#206095"/>
<circle cx="133.00" cy="622.70" r="1.95" fill="#206095"/>
<circle cx="137.40" cy="622.20" r="1.95" fill="#206095"/>
<circle cx="141.40" cy="618.50" r="1.95" fill="#206095"/>
<circle cx="146.30" cy="625.50" r="1.95" fill="#206095"/>
<circle cx="150.30" cy="624.00" r="1.95" fill="#206095"/>
<circle cx="155.20" cy="627.20" r="1.95" fill="#206095"/>
<circle cx="159.80" cy="624.50" r="1.95" fill="#206095"/>
<circle cx="164.50" cy="625.80" r="1.95" fill="#206095"/>
<circle cx="169.00" cy="632.20" r="1.95" fill="#206095"/>
<circle cx="173.50" cy="632.00" r="1.95" fill="#206095"/>
<circle cx="177.80" cy="632.50" r="1.95" fill="#206095"/>
<circle cx="181.80" cy="627.50" r="1.95" fill="#206095"/>
<circle cx="186.80" cy="626.00" r="1.95" fill="#206095"/>
<circle cx="191.50" cy="627.30" r="1.95" fill="#206095"/>
<circle cx="196.00" cy="625.50" r="1.95" fill="#206095"/>
<circle cx="200.50" cy="621.50" r="1.95" fill="#206095"/>
<circle cx="203.20" cy="619.50" r="1.95" fill="#206095"/>
<circle cx="207.50" cy="620.20" r="1.95" fill="#206095"/>
<circle cx="214.00" cy="621.50" r="1.95" fill="#206095"/>
<circle cx="217.30" cy="621.20" r="1.95" fill="#206095"/>
<circle cx="219.20" cy="617.80" r="1.95" fill="#206095"/>
<circle cx="221.80" cy="616.80" r="1.95" fill="#206095"/>
<circle cx="226.80" cy="604.60" r="1.95" fill="#206095"/>
<circle cx="230.80" cy="592.20" r="1.95" fill="#206095"/>
<circle cx="236.40" cy="590.00" r="1.95" fill="#206095"/>
<circle cx="241.00" cy="593.50" r="1.95" fill="#206095"/>
<circle cx="245.50" cy="574.80" r="1.95" fill="#206095"/>
<circle cx="250.00" cy="570.50" r="1.95" fill="#206095"/>
<circle cx="254.70" cy="570.00" r="1.95" fill="#206095"/>
<rect x="324.50" y="553.00" width="228.00" height="1.00" fill="#e6e6e6"/>
<rect x="324.50" y="570.00" width="228.00" height="1.00" fill="#e6e6e6"/>
<rect x="324.50" y="587.00" width="228.00" height="1.00" fill="#e6e6e6"/>
<rect x="324.50" y="604.00" width="228.00" height="1.00" fill="#e6e6e6"/>
<rect x="324.50" y="622.00" width="228.00" height="1.00" fill="#e6e6e6"/>
<rect x="324.50" y="639.00" width="228.00" height="1.00" fill="#c6c6c6"/>
<text x="321.50" y="557.10" font-size="11" fill="#222222" font-weight="normal" text-anchor="end">10</text>
<text x="321.50" y="574.34" font-size="11" fill="#222222" font-weight="normal" text-anchor="end">8</text>
<text x="321.50" y="591.58" font-size="11" fill="#222222" font-weight="normal" text-anchor="end">6</text>
<text x="321.50" y="608.82" font-size="11" fill="#222222" font-weight="normal" text-anchor="end">4</text>
<text x="321.50" y="626.06" font-size="11" fill="#222222" font-weight="normal" text-anchor="end">2</text>
<text x="321.50" y="643.30" font-size="11" fill="#222222" font-weight="normal" text-anchor="end">0</text>
<rect x="324.00" y="639.00" width="1.00" height="5.00" fill="#c6c6c6"/>
<rect x="391.00" y="639.00" width="1.00" height="5.00" fill="#c6c6c6"/>
<rect x="458.00" y="639.00" width="1.00" height="5.00" fill="#c6c6c6"/>
<rect x="553.00" y="639.00" width="1.00" height="5.00" fill="#c6c6c6"/>
<text x="324.50" y="657.00" font-size="11" fill="#222222" font-weight="normal" text-anchor="middle" textLength="40.3" lengthAdjust="spacingAndGlyphs">2 Jan 22</text>
<text x="391.60" y="657.00" font-size="11" fill="#222222" font-weight="normal" text-anchor="middle" textLength="46.1" lengthAdjust="spacingAndGlyphs">14 Jan 22</text>
<text x="458.40" y="657.00" font-size="11" fill="#222222" font-weight="normal" text-anchor="middle" textLength="46.1" lengthAdjust="spacingAndGlyphs">26 Jan 22</text>
<text x="553.30" y="657.00" font-size="11" fill="#222222" font-weight="normal" text-anchor="middle" textLength="47.3" lengthAdjust="spacingAndGlyphs">12 Feb 22</text>
<path d="M324.00,586.96 L326.00,586.72 L328.00,586.50 L330.00,586.30 L332.00,586.11 L334.00,585.93 L336.00,585.77 L338.00,585.62 L340.00,585.49 L342.00,585.37 L344.00,585.25 L346.00,585.15 L348.00,585.06 L350.00,584.97 L352.00,584.90 L354.00,584.83 L356.00,584.76 L358.00,584.70 L360.00,584.65 L362.00,584.60 L364.00,584.55 L366.00,584.50 L368.00,584.46 L370.00,584.41 L372.00,584.37 L374.00,584.32 L376.00,584.27 L378.00,584.22 L380.00,584.17 L382.00,584.11 L384.00,584.04 L386.00,583.97 L388.00,583.89 L390.00,583.80 L392.00,583.71 L394.00,583.60 L396.00,583.49 L398.00,583.36 L400.00,583.22 L402.00,583.07 L404.00,582.91 L406.00,582.73 L408.00,582.53 L410.00,582.32 L412.00,582.10 L414.00,581.85 L416.00,581.59 L418.00,581.31 L420.00,581.00 L422.00,580.68 L424.00,580.34 L426.00,579.97 L428.00,579.58 L430.00,579.16 L432.00,578.72 L434.00,578.26 L436.00,577.77 L438.00,577.26 L440.00,576.73 L442.00,576.18 L444.00,575.61 L446.00,575.04 L448.00,574.45 L450.00,573.85 L452.00,573.24 L454.00,572.63 L456.00,572.02 L458.00,571.41 L460.00,570.79 L462.00,570.18 L464.00,569.57 L466.00,568.97 L468.00,568.38 L470.00,567.81 L472.00,567.24 L474.00,566.69 L476.00,566.16 L478.00,565.64 L480.00,565.15 L482.00,564.68 L484.00,564.24 L486.00,563.82 L488.00,563.44 L490.00,563.08 L492.00,562.76 L494.00,562.48 L496.00,562.23 L498.00,562.02 L500.00,561.85 L502.00,561.71 L504.00,561.61 L506.00,561.53 L508.00,561.47 L510.00,561.44 L512.00,561.42 L514.00,561.42 L516.00,561.43 L518.00,561.45 L520.00,561.47 L522.00,561.50 L524.00,561.53 L526.00,561.55 L528.00,561.57 L530.00,561.58 L532.00,561.57 L534.00,561.55 L536.00,561.50 L536.40,561.49 L536.40,578.51 L536.00,578.49 L534.00,578.41 L532.00,578.33 L530.00,578.23 L528.00,578.13 L526.00,578.03 L524.00,577.93 L522.00,577.83 L520.00,577.73 L518.00,577.64 L516.00,577.57 L514.00,577.50 L512.00,577.45 L510.00,577.42 L508.00,577.40 L506.00,577.41 L504.00,577.45 L502.00,577.51 L500.00,577.60 L498.00,577.72 L496.00,577.88 L494.00,578.07 L492.00,578.30 L490.00,578.56 L488.00,578.86 L486.00,579.18 L484.00,579.53 L482.00,579.91 L480.00,580.31 L478.00,580.73 L476.00,581.17 L474.00,581.63 L472.00,582.11 L470.00,582.60 L468.00,583.10 L466.00,583.62 L464.00,584.14 L462.00,584.67 L460.00,585.21 L458.00,585.75 L456.00,586.29 L454.00,586.83 L452.00,587.37 L450.00,587.90 L448.00,588.43 L446.00,588.95 L444.00,589.46 L442.00,589.96 L440.00,590.44 L438.00,590.91 L436.00,591.36 L434.00,591.79 L432.00,592.21 L430.00,592.59 L428.00,592.96 L426.00,593.31 L424.00,593.63 L422.00,593.94 L420.00,594.22 L418.00,594.49 L416.00,594.74 L414.00,594.97 L412.00,595.19 L410.00,595.39 L408.00,595.58 L406.00,595.75 L404.00,595.92 L402.00,596.07 L400.00,596.20 L398.00,596.33 L396.00,596.45 L394.00,596.56 L392.00,596.66 L390.00,596.76 L388.00,596.84 L386.00,596.93 L384.00,597.00 L382.00,597.08 L380.00,597.15 L378.00,597.22 L376.00,597.28 L374.00,597.35 L372.00,597.41 L370.00,597.48 L368.00,597.54 L366.00,597.61 L364.00,597.68 L362.00,597.76 L360.00,597.84 L358.00,597.93 L356.00,598.02 L354.00,598.12 L352.00,598.22 L350.00,598.34 L348.00,598.46 L346.00,598.59 L344.00,598.74 L342.00,598.90 L340.00,599.06 L338.00,599.25 L336.00,599.44 L334.00,599.65 L332.00,599.88 L330.00,600.12 L328.00,600.38 L326.00,600.66 L324.00,600.96 Z" fill="#e6e6e6"/>
<path d="M536.40,562.00 L552.50,557.00 L552.50,583.00 L536.40,578.00 Z" fill="#e6e6e6"/>
<path d="M536.5,544.50V639.00" stroke="#aaaaaa" stroke-width="1" stroke-dasharray="4.5,4.5" fill="none"/>
<text x="531.50" y="544.00" font-size="11" fill="#646465" font-weight="normal" text-anchor="end" textLength="164.5" lengthAdjust="spacingAndGlyphs" stroke="#fff" stroke-width="2" paint-order="stroke">After 9 February 2022, estimates</text>
<text x="531.50" y="556.00" font-size="11" fill="#646465" font-weight="normal" text-anchor="end" textLength="124.0" lengthAdjust="spacingAndGlyphs" stroke="#fff" stroke-width="2" paint-order="stroke">have greater uncertainty</text>
<path d="M324.00,593.96 L326.00,593.69 L328.00,593.44 L330.00,593.21 L332.00,593.00 L334.00,592.79 L336.00,592.61 L338.00,592.44 L340.00,592.28 L342.00,592.13 L344.00,592.00 L346.00,591.88 L348.00,591.76 L350.00,591.66 L352.00,591.56 L354.00,591.48 L356.00,591.39 L358.00,591.32 L360.00,591.25 L362.00,591.18 L364.00,591.12 L366.00,591.06 L368.00,591.00 L370.00,590.95 L372.00,590.89 L374.00,590.84 L376.00,590.78 L378.00,590.72 L380.00,590.66 L382.00,590.59 L384.00,590.52 L386.00,590.45 L388.00,590.37 L390.00,590.28 L392.00,590.18 L394.00,590.08 L396.00,589.97 L398.00,589.84 L400.00,589.71 L402.00,589.56 L404.00,589.41 L406.00,589.24 L408.00,589.05 L410.00,588.85 L412.00,588.64 L414.00,588.41 L416.00,588.16 L418.00,587.89 L420.00,587.61 L422.00,587.30 L424.00,586.98 L426.00,586.63 L428.00,586.26 L430.00,585.87 L432.00,585.46 L434.00,585.02 L436.00,584.56 L438.00,584.08 L440.00,583.58 L442.00,583.07 L444.00,582.54 L446.00,581.99 L448.00,581.44 L450.00,580.88 L452.00,580.31 L454.00,579.74 L456.00,579.16 L458.00,578.58 L460.00,578.01 L462.00,577.43 L464.00,576.86 L466.00,576.30 L468.00,575.75 L470.00,575.21 L472.00,574.68 L474.00,574.17 L476.00,573.67 L478.00,573.19 L480.00,572.74 L482.00,572.30 L484.00,571.89 L486.00,571.51 L488.00,571.15 L490.00,570.83 L492.00,570.54 L494.00,570.28 L496.00,570.06 L498.00,569.87 L500.00,569.72 L502.00,569.61 L504.00,569.52 L506.00,569.46 L508.00,569.43 L510.00,569.42 L512.00,569.42 L514.00,569.45 L516.00,569.48 L518.00,569.53 L520.00,569.59 L522.00,569.65 L524.00,569.71 L526.00,569.78 L528.00,569.84 L530.00,569.89 L532.00,569.94 L534.00,569.98 L536.00,570.00 L536.40,570.00" stroke="#27a0cc" stroke-width="2" fill="none" stroke-linecap="round"/>
<path d="M536.40,561.40V578.00M534.20,561.40h4.4M534.20,578.00h4.4" stroke="#707070" stroke-width="1" fill="none"/>
<circle cx="536.40" cy="570.00" r="2.0" fill="#206095"/>
<text x="0.00" y="692.80" font-size="14" fill="#5f5f60" font-weight="bold" text-anchor="start" textLength="61.5" lengthAdjust="spacingAndGlyphs">Scotland</text>
<text x="0.50" y="718.00" font-size="11" fill="#646465" font-weight="normal" text-anchor="start" textLength="202.7" lengthAdjust="spacingAndGlyphs">Percentage testing positive for COVID-19</text>
<text x="297.60" y="718.00" font-size="11" fill="#646465" font-weight="normal" text-anchor="start" textLength="202.8" lengthAdjust="spacingAndGlyphs">Percentage testing positive for COVID-19</text>
<rect x="27.00" y="743.00" width="229.50" height="1.00" fill="#e6e6e6"/>
<rect x="27.00" y="760.00" width="229.50" height="1.00" fill="#e6e6e6"/>
<rect x="27.00" y="777.00" width="229.50" height="1.00" fill="#e6e6e6"/>
<rect x="27.00" y="794.00" width="229.50" height="1.00" fill="#e6e6e6"/>
<rect x="27.00" y="812.00" width="229.50" height="1.00" fill="#e6e6e6"/>
<rect x="27.00" y="829.00" width="229.50" height="1.00" fill="#c6c6c6"/>
<text x="24.00" y="747.10" font-size="11" fill="#222222" font-weight="normal" text-anchor="end">10</text>
<text x="24.00" y="764.34" font-size="11" fill="#222222" font-weight="normal" text-anchor="end">8</text>
<text x="24.00" y="781.58" font-size="11" fill="#222222" font-weight="normal" text-anchor="end">6</text>
<text x="24.00" y="798.82" font-size="11" fill="#222222" font-weight="normal" text-anchor="end">4</text>
<text x="24.00" y="816.06" font-size="11" fill="#222222" font-weight="normal" text-anchor="end">2</text>
<text x="24.00" y="833.30" font-size="11" fill="#222222" font-weight="normal" text-anchor="end">0</text>
<rect x="27.00" y="829.00" width="1.00" height="5.00" fill="#c6c6c6"/>
<rect x="141.00" y="829.00" width="1.00" height="5.00" fill="#c6c6c6"/>
<rect x="256.00" y="829.00" width="1.00" height="5.00" fill="#c6c6c6"/>
<text x="27.00" y="847.00" font-size="11" fill="#222222" font-weight="normal" text-anchor="middle" textLength="47.3" lengthAdjust="spacingAndGlyphs">21 Feb 21</text>
<text x="141.50" y="847.00" font-size="11" fill="#222222" font-weight="normal" text-anchor="middle" textLength="47.3" lengthAdjust="spacingAndGlyphs">18 Aug 21</text>
<text x="256.50" y="847.00" font-size="11" fill="#222222" font-weight="normal" text-anchor="middle" textLength="47.3" lengthAdjust="spacingAndGlyphs">13 Feb 22</text>
<path d="M100.80,823.50V826.50M98.70,823.50h4.2M98.70,826.50h4.2" stroke="#707070" stroke-width="1" fill="none"/>
<path d="M105.60,821.00V824.20M103.50,821.00h4.2M103.50,824.20h4.2" stroke="#707070" stroke-width="1" fill="none"/>
<path d="M110.00,818.30V822.10M107.90,818.30h4.2M107.90,822.10h4.2" stroke="#707070" stroke-width="1" fill="none"/>
<path d="M114.40,817.00V821.00M112.30,817.00h4.2M112.30,821.00h4.2" stroke="#707070" stroke-width="1" fill="none"/>
<path d="M119.00,816.50V820.70M116.90,816.50h4.2M116.90,820.70h4.2" stroke="#707070" stroke-width="1" fill="none"/>
<path d="M123.40,819.00V823.00M121.30,819.00h4.2M121.30,823.00h4.2" stroke="#707070" stroke-width="1" fill="none"/>
<path d="M128.00,820.00V824.00M125.90,820.00h4.2M125.90,824.00h4.2" stroke="#707070" stroke-width="1" fill="none"/>
<path d="M132.30,822.30V826.30M130.20,822.30h4.2M130.20,826.30h4.2" stroke="#707070" stroke-width="1" fill="none"/>
<path d="M136.80,822.70V826.70M134.70,822.70h4.2M134.70,826.70h4.2" stroke="#707070" stroke-width="1" fill="none"/>
<path d="M140.80,820.80V824.80M138.70,820.80h4.2M138.70,824.80h4.2" stroke="#707070" stroke-width="1" fill="none"/>
<path d="M145.80,815.00V820.00M143.70,815.00h4.2M143.70,820.00h4.2" stroke="#707070" stroke-width="1" fill="none"/>
<path d="M149.80,806.50V813.00M147.70,806.50h4.2M147.70,813.00h4.2" stroke="#707070" stroke-width="1" fill="none"/>
<path d="M154.70,805.80V812.50M152.60,805.80h4.2M152.60,812.50h4.2" stroke="#707070" stroke-width="1" fill="none"/>
<path d="M159.30,805.50V812.50M157.20,805.50h4.2M157.20,812.50h4.2" stroke="#707070" stroke-width="1" fill="none"/>
<path d="M164.00,810.20V815.50M161.90,810.20h4.2M161.90,815.50h4.2" stroke="#707070" stroke-width="1" fill="none"/>
<path d="M168.30,812.50V817.50M166.20,812.50h4.2M166.20,817.50h4.2" stroke="#707070" stroke-width="1" fill="none"/>
<path d="M172.80,815.50V820.50M170.70,815.50h4.2M170.70,820.50h4.2" stroke="#707070" stroke-width="1" fill="none"/>
<path d="M177.30,816.50V821.50M175.20,816.50h4.2M175.20,821.50h4.2" stroke="#707070" stroke-width="1" fill="none"/>
<path d="M181.80,814.50V819.50M179.70,814.50h4.2M179.70,819.50h4.2" stroke="#707070" stroke-width="1" fill="none"/>
<path d="M186.40,815.50V821.00M184.30,815.50h4.2M184.30,821.00h4.2" stroke="#707070" stroke-width="1" fill="none"/>
<path d="M191.00,816.50V821.50M188.90,816.50h4.2M188.90,821.50h4.2" stroke="#707070" stroke-width="1" fill="none"/>
<path d="M195.30,817.00V822.50M193.20,817.00h4.2M193.20,822.50h4.2" stroke="#707070" stroke-width="1" fill="none"/>
<path d="M199.80,814.00V819.00M197.70,814.00h4.2M197.70,819.00h4.2" stroke="#707070" stroke-width="1" fill="none"/>
<path d="M204.30,812.50V818.00M202.20,812.50h4.2M202.20,818.00h4.2" stroke="#707070" stroke-width="1" fill="none"/>
<path d="M207.50,816.00V821.00M205.40,816.00h4.2M205.40,821.00h4.2" stroke="#707070" stroke-width="1" fill="none"/>
<path d="M213.50,815.50V821.00M211.40,815.50h4.2M211.40,821.00h4.2" stroke="#707070" stroke-width="1" fill="none"/>
<path d="M216.80,814.00V819.00M214.70,814.00h4.2M214.70,819.00h4.2" stroke="#707070" stroke-width="1" fill="none"/>
<path d="M218.70,813.50V818.50M216.60,813.50h4.2M216.60,818.50h4.2" stroke="#707070" stroke-width="1" fill="none"/>
<path d="M221.20,803.50V810.00M219.10,803.50h4.2M219.10,810.00h4.2" stroke="#707070" stroke-width="1" fill="none"/>
<path d="M226.10,785.00V794.50M224.00,785.00h4.2M224.00,794.50h4.2" stroke="#707070" stroke-width="1" fill="none"/>
<path d="M230.70,775.00V785.50M228.60,775.00h4.2M228.60,785.50h4.2" stroke="#707070" stroke-width="1" fill="none"/>
<path d="M235.90,785.50V794.50M233.80,785.50h4.2M233.80,794.50h4.2" stroke="#707070" stroke-width="1" fill="none"/>
<path d="M240.40,798.50V805.50M238.30,798.50h4.2M238.30,805.50h4.2" stroke="#707070" stroke-width="1" fill="none"/>
<path d="M244.80,794.50V802.50M242.70,794.50h4.2M242.70,802.50h4.2" stroke="#707070" stroke-width="1" fill="none"/>
<path d="M249.50,790.50V798.00M247.40,790.50h4.2M247.40,798.00h4.2" stroke="#707070" stroke-width="1" fill="none"/>
<path d="M254.50,788.80V797.50M252.40,788.80h4.2M252.40,797.50h4.2" stroke="#707070" stroke-width="1" fill="none"/>
<circle cx="28.80" cy="826.40" r="1.95" fill="#206095"/>
<circle cx="33.40" cy="826.20" r="1.95" fill="#206095"/>
<circle cx="38.00" cy="825.80" r="1.95" fill="#206095"/>
<circle cx="42.40" cy="825.40" r="1.95" fill="#206095"/>
<circle cx="46.80" cy="826.00" r="1.95" fill="#206095"/>
<circle cx="51.20" cy="826.60" r="1.95" fill="#206095"/>
<circle cx="55.80" cy="827.20" r="1.95" fill="#206095"/>
<circle cx="60.00" cy="827.40" r="1.95" fill="#206095"/>
<circle cx="65.20" cy="827.40" r="1.95" fill="#206095"/>
<circle cx="69.60" cy="827.80" r="1.95" fill="#206095"/>
<circle cx="74.00" cy="828.20" r="1.95" fill="#206095"/>
<circle cx="78.40" cy="828.60" r="1.95" fill="#206095"/>
<circle cx="83.00" cy="827.60" r="1.95" fill="#206095"/>
<circle cx="87.40" cy="827.60" r="1.95" fill="#206095"/>
<circle cx="92.00" cy="827.40" r="1.95" fill="#206095"/>
<circle cx="96.40" cy="827.40" r="1.95" fill="#206095"/>
<circle cx="100.80" cy="825.00" r="1.95" fill="#206095"/>
<circle cx="105.60" cy="822.60" r="1.95" fill="#206095"/>
<circle cx="110.00" cy="820.20" r="1.95" fill="#206095"/>
<circle cx="114.40" cy="819.00" r="1.95" fill="#206095"/>
<circle cx="119.00" cy="818.60" r="1.95" fill="#206095"/>
<circle cx="123.40" cy="821.00" r="1.95" fill="#206095"/>
<circle cx="128.00" cy="822.00" r="1.95" fill="#206095"/>
<circle cx="132.30" cy="824.30" r="1.95" fill="#206095"/>
<circle cx="136.80" cy="824.70" r="1.95" fill="#206095"/>
<circle cx="140.80" cy="822.80" r="1.95" fill="#206095"/>
<circle cx="145.80" cy="817.50" r="1.95" fill="#206095"/>
<circle cx="149.80" cy="809.70" r="1.95" fill="#206095"/>
<circle cx="154.70" cy="809.20" r="1.95" fill="#206095"/>
<circle cx="159.30" cy="809.20" r="1.95" fill="#206095"/>
<circle cx="164.00" cy="812.80" r="1.95" fill="#206095"/>
<circle cx="168.30" cy="815.00" r="1.95" fill="#206095"/>
<circle cx="172.80" cy="818.00" r="1.95" fill="#206095"/>
<circle cx="177.30" cy="819.00" r="1.95" fill="#206095"/>
<circle cx="181.80" cy="817.20" r="1.95" fill="#206095"/>
<circle cx="186.40" cy="818.30" r="1.95" fill="#206095"/>
<circle cx="191.00" cy="819.00" r="1.95" fill="#206095"/>
<circle cx="195.30" cy="819.80" r="1.95" fill="#206095"/>
<circle cx="199.80" cy="816.50" r="1.95" fill="#206095"/>
<circle cx="204.30" cy="815.50" r="1.95" fill="#206095"/>
<circle cx="207.50" cy="818.50" r="1.95" fill="#206095"/>
<circle cx="213.50" cy="818.20" r="1.95" fill="#206095"/>
<circle cx="216.80" cy="816.50" r="1.95" fill="#206095"/>
<circle cx="218.70" cy="816.00" r="1.95" fill="#206095"/>
<circle cx="221.20" cy="806.80" r="1.95" fill="#206095"/>
<circle cx="226.10" cy="790.00" r="1.95" fill="#206095"/>
<circle cx="230.70" cy="780.20" r="1.95" fill="#206095"/>
<circle cx="235.90" cy="790.20" r="1.95" fill="#206095"/>
<circle cx="240.40" cy="802.20" r="1.95" fill="#206095"/>
<circle cx="244.80" cy="798.50" r="1.95" fill="#206095"/>
<circle cx="249.50" cy="794.20" r="1.95" fill="#206095"/>
<circle cx="254.50" cy="793.00" r="1.95" fill="#206095"/>
<rect x="324.50" y="743.00" width="228.00" height="1.00" fill="#e6e6e6"/>
<rect x="324.50" y="760.00" width="228.00" height="1.00" fill="#e6e6e6"/>
<rect x="324.50" y="777.00" width="228.00" height="1.00" fill="#e6e6e6"/>
<rect x="324.50" y="794.00" width="228.00" height="1.00" fill="#e6e6e6"/>
<rect x="324.50" y="812.00" width="228.00" height="1.00" fill="#e6e6e6"/>
<rect x="324.50" y="829.00" width="228.00" height="1.00" fill="#c6c6c6"/>
<text x="321.50" y="747.10" font-size="11" fill="#222222" font-weight="normal" text-anchor="end">10</text>
<text x="321.50" y="764.34" font-size="11" fill="#222222" font-weight="normal" text-anchor="end">8</text>
<text x="321.50" y="781.58" font-size="11" fill="#222222" font-weight="normal" text-anchor="end">6</text>
<text x="321.50" y="798.82" font-size="11" fill="#222222" font-weight="normal" text-anchor="end">4</text>
<text x="321.50" y="816.06" font-size="11" fill="#222222" font-weight="normal" text-anchor="end">2</text>
<text x="321.50" y="833.30" font-size="11" fill="#222222" font-weight="normal" text-anchor="end">0</text>
<rect x="324.00" y="829.00" width="1.00" height="5.00" fill="#c6c6c6"/>
<rect x="391.00" y="829.00" width="1.00" height="5.00" fill="#c6c6c6"/>
<rect x="458.00" y="829.00" width="1.00" height="5.00" fill="#c6c6c6"/>
<rect x="553.00" y="829.00" width="1.00" height="5.00" fill="#c6c6c6"/>
<text x="324.50" y="847.00" font-size="11" fill="#222222" font-weight="normal" text-anchor="middle" textLength="40.3" lengthAdjust="spacingAndGlyphs">3 Jan 22</text>
<text x="391.60" y="847.00" font-size="11" fill="#222222" font-weight="normal" text-anchor="middle" textLength="46.1" lengthAdjust="spacingAndGlyphs">15 Jan 22</text>
<text x="458.40" y="847.00" font-size="11" fill="#222222" font-weight="normal" text-anchor="middle" textLength="46.1" lengthAdjust="spacingAndGlyphs">27 Jan 22</text>
<text x="553.30" y="847.00" font-size="11" fill="#222222" font-weight="normal" text-anchor="middle" textLength="47.3" lengthAdjust="spacingAndGlyphs">13 Feb 22</text>
<path d="M324.00,779.58 L326.00,779.45 L328.00,779.38 L330.00,779.36 L332.00,779.39 L334.00,779.46 L336.00,779.58 L338.00,779.74 L340.00,779.94 L342.00,780.17 L344.00,780.44 L346.00,780.75 L348.00,781.08 L350.00,781.44 L352.00,781.83 L354.00,782.24 L356.00,782.67 L358.00,783.12 L360.00,783.59 L362.00,784.07 L364.00,784.57 L366.00,785.07 L368.00,785.58 L370.00,786.10 L372.00,786.62 L374.00,787.14 L376.00,787.66 L378.00,788.17 L380.00,788.68 L382.00,789.18 L384.00,789.67 L386.00,790.15 L388.00,790.61 L390.00,791.06 L392.00,791.49 L394.00,791.91 L396.00,792.31 L398.00,792.70 L400.00,793.07 L402.00,793.42 L404.00,793.75 L406.00,794.07 L408.00,794.36 L410.00,794.64 L412.00,794.89 L414.00,795.12 L416.00,795.33 L418.00,795.52 L420.00,795.69 L422.00,795.83 L424.00,795.95 L426.00,796.04 L428.00,796.11 L430.00,796.15 L432.00,796.16 L434.00,796.15 L436.00,796.11 L438.00,796.05 L440.00,795.96 L442.00,795.86 L444.00,795.73 L446.00,795.58 L448.00,795.41 L450.00,795.23 L452.00,795.03 L454.00,794.82 L456.00,794.59 L458.00,794.35 L460.00,794.11 L462.00,793.85 L464.00,793.58 L466.00,793.31 L468.00,793.04 L470.00,792.75 L472.00,792.47 L474.00,792.19 L476.00,791.90 L478.00,791.62 L480.00,791.34 L482.00,791.06 L484.00,790.79 L486.00,790.52 L488.00,790.26 L490.00,790.01 L492.00,789.77 L494.00,789.54 L496.00,789.33 L498.00,789.13 L500.00,788.94 L502.00,788.77 L504.00,788.61 L506.00,788.48 L508.00,788.36 L510.00,788.25 L512.00,788.17 L514.00,788.11 L516.00,788.07 L518.00,788.04 L520.00,788.04 L522.00,788.07 L524.00,788.11 L526.00,788.18 L528.00,788.27 L530.00,788.39 L532.00,788.54 L534.00,788.71 L536.00,788.91 L536.40,788.95 L536.40,797.15 L536.00,797.09 L534.00,796.85 L532.00,796.63 L530.00,796.44 L528.00,796.27 L526.00,796.13 L524.00,796.02 L522.00,795.93 L520.00,795.86 L518.00,795.82 L516.00,795.79 L514.00,795.79 L512.00,795.81 L510.00,795.86 L508.00,795.92 L506.00,796.00 L504.00,796.10 L502.00,796.22 L500.00,796.35 L498.00,796.50 L496.00,796.67 L494.00,796.86 L492.00,797.06 L490.00,797.27 L488.00,797.49 L486.00,797.73 L484.00,797.97 L482.00,798.22 L480.00,798.48 L478.00,798.74 L476.00,799.01 L474.00,799.28 L472.00,799.55 L470.00,799.82 L468.00,800.09 L466.00,800.35 L464.00,800.62 L462.00,800.87 L460.00,801.12 L458.00,801.36 L456.00,801.59 L454.00,801.81 L452.00,802.02 L450.00,802.21 L448.00,802.39 L446.00,802.56 L444.00,802.70 L442.00,802.83 L440.00,802.94 L438.00,803.02 L436.00,803.08 L434.00,803.12 L432.00,803.13 L430.00,803.12 L428.00,803.08 L426.00,803.01 L424.00,802.92 L422.00,802.80 L420.00,802.66 L418.00,802.50 L416.00,802.31 L414.00,802.10 L412.00,801.88 L410.00,801.63 L408.00,801.36 L406.00,801.07 L404.00,800.76 L402.00,800.43 L400.00,800.09 L398.00,799.73 L396.00,799.35 L394.00,798.95 L392.00,798.55 L390.00,798.12 L388.00,797.69 L386.00,797.24 L384.00,796.77 L382.00,796.30 L380.00,795.81 L378.00,795.32 L376.00,794.83 L374.00,794.33 L372.00,793.83 L370.00,793.33 L368.00,792.83 L366.00,792.35 L364.00,791.87 L362.00,791.40 L360.00,790.94 L358.00,790.50 L356.00,790.08 L354.00,789.68 L352.00,789.30 L350.00,788.94 L348.00,788.61 L346.00,788.31 L344.00,788.04 L342.00,787.81 L340.00,787.61 L338.00,787.45 L336.00,787.33 L334.00,787.25 L332.00,787.22 L330.00,787.23 L328.00,787.30 L326.00,787.42 L324.00,787.59 Z" fill="#e6e6e6"/>
<path d="M536.40,789.20 L552.50,788.00 L552.50,798.00 L536.40,796.80 Z" fill="#e6e6e6"/>
<path d="M536.5,734.50V829.00" stroke="#aaaaaa" stroke-width="1" stroke-dasharray="4.5,4.5" fill="none"/>
<text x="531.50" y="734.00" font-size="11" fill="#646465" font-weight="normal" text-anchor="end" textLength="170.0" lengthAdjust="spacingAndGlyphs" stroke="#fff" stroke-width="2" paint-order="stroke">After 10 February 2022, estimates</text>
<text x="531.50" y="746.00" font-size="11" fill="#646465" font-weight="normal" text-anchor="end" textLength="124.0" lengthAdjust="spacingAndGlyphs" stroke="#fff" stroke-width="2" paint-order="stroke">have greater uncertainty</text>
<path d="M324.00,783.58 L326.00,783.44 L328.00,783.34 L330.00,783.30 L332.00,783.30 L334.00,783.36 L336.00,783.45 L338.00,783.59 L340.00,783.77 L342.00,783.99 L344.00,784.24 L346.00,784.53 L348.00,784.85 L350.00,785.19 L352.00,785.56 L354.00,785.96 L356.00,786.38 L358.00,786.81 L360.00,787.27 L362.00,787.74 L364.00,788.22 L366.00,788.71 L368.00,789.21 L370.00,789.71 L372.00,790.22 L374.00,790.73 L376.00,791.24 L378.00,791.75 L380.00,792.25 L382.00,792.74 L384.00,793.22 L386.00,793.69 L388.00,794.15 L390.00,794.59 L392.00,795.02 L394.00,795.43 L396.00,795.83 L398.00,796.21 L400.00,796.58 L402.00,796.92 L404.00,797.25 L406.00,797.57 L408.00,797.86 L410.00,798.13 L412.00,798.38 L414.00,798.61 L416.00,798.82 L418.00,799.01 L420.00,799.17 L422.00,799.31 L424.00,799.43 L426.00,799.52 L428.00,799.59 L430.00,799.63 L432.00,799.65 L434.00,799.63 L436.00,799.60 L438.00,799.53 L440.00,799.45 L442.00,799.34 L444.00,799.21 L446.00,799.07 L448.00,798.90 L450.00,798.72 L452.00,798.53 L454.00,798.32 L456.00,798.09 L458.00,797.86 L460.00,797.61 L462.00,797.36 L464.00,797.10 L466.00,796.83 L468.00,796.56 L470.00,796.29 L472.00,796.01 L474.00,795.73 L476.00,795.46 L478.00,795.18 L480.00,794.91 L482.00,794.64 L484.00,794.38 L486.00,794.12 L488.00,793.88 L490.00,793.64 L492.00,793.42 L494.00,793.20 L496.00,793.00 L498.00,792.82 L500.00,792.65 L502.00,792.49 L504.00,792.36 L506.00,792.24 L508.00,792.14 L510.00,792.05 L512.00,791.99 L514.00,791.95 L516.00,791.93 L518.00,791.93 L520.00,791.95 L522.00,791.99 L524.00,792.06 L526.00,792.16 L528.00,792.27 L530.00,792.42 L532.00,792.58 L534.00,792.78 L536.00,793.00 L536.40,793.05" stroke="#27a0cc" stroke-width="2" fill="none" stroke-linecap="round"/>
<path d="M536.40,789.00V797.00M534.20,789.00h4.4M534.20,797.00h4.4" stroke="#707070" stroke-width="1" fill="none"/>
<circle cx="536.40" cy="793.00" r="2.0" fill="#206095"/>
<text x="0.5" y="882.4" font-size="13.3" fill="#323132" font-weight="bold" textLength="562" lengthAdjust="spacingAndGlyphs">Source: Office for National Statistics – Coronavirus (COVID-19) Infection Survey</text>
</svg>
</body></html>
